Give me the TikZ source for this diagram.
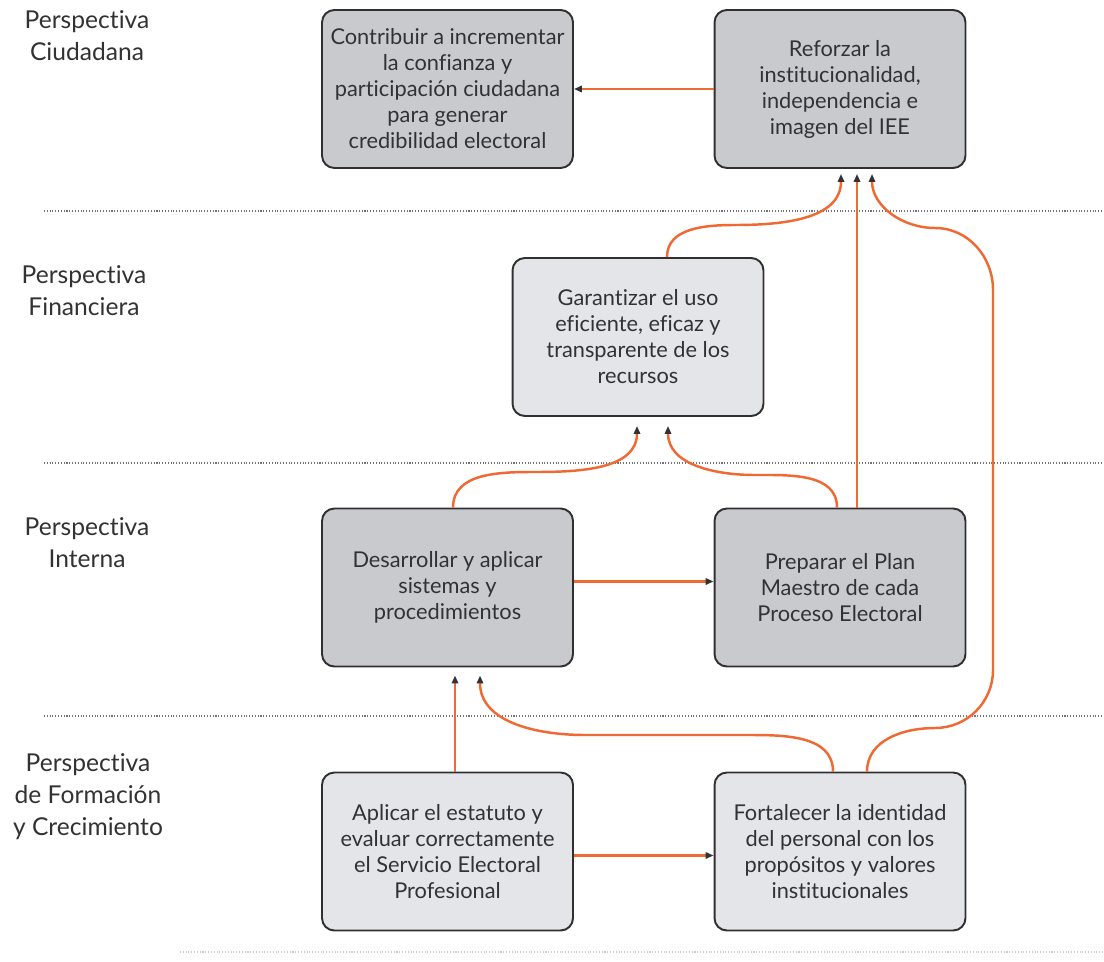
\documentclass[tikz,border=0pt]{standalone}
\usepackage{fontspec}
\setmainfont{Lato}[Ligatures=NoCommon]
\usetikzlibrary{arrows.meta,calc}
\definecolor{orng}{RGB}{240,104,50}
\definecolor{darkbox}{RGB}{200,202,206}
\definecolor{lightbox}{RGB}{227,229,233}
\definecolor{txt}{RGB}{50,50,52}
\tikzset{
  box/.style={draw=txt!95!black, line width=1.1pt, rounded corners=7pt,
    minimum width=5.02cm, minimum height=3.16cm, align=center,
    text=txt, font=\fontsize{12.4}{14.8}\selectfont, inner sep=2pt},
  darkb/.style={box, fill=darkbox},
  lightb/.style={box, fill=lightbox},
  persp/.style={align=center, text=txt, font=\fontsize{14}{18.2}\selectfont},
  sep/.style={draw=black!55, line width=0.6pt, densely dotted},
  arr/.style={draw=orng, line width=1.4pt,
    -{Triangle[length=4.5pt,width=3.6pt,color=black!80]}},
}
\begin{document}
\begin{tikzpicture}[x=0.02cm,y=-0.02cm]
\useasboundingbox (0,0) rectangle (1104,962);
% separators
\coordinate (s1a) at (44,211); \coordinate (s1b) at (1104,211);
\coordinate (s2a) at (44,463); \coordinate (s2b) at (1104,463);
\coordinate (s3a) at (44,716); \coordinate (s3b) at (1104,716);
\coordinate (s4a) at (180,952); \coordinate (s4b) at (1104,952);
\draw[sep] (s1a) -- (s1b);
\draw[sep] (s2a) -- (s2b);
\draw[sep] (s3a) -- (s3b);
\draw[sep, draw=black!20] (s4a) -- (s4b);
% perspective labels
\node[persp] (p1) at (87,36) {Perspectiva\\Ciudadana};
\node[persp] (p2) at (84,291) {Perspectiva\\Financiera};
\node[persp] (p3) at (87,543) {Perspectiva\\Interna};
\node[persp] (p4) at (88,797) {Perspectiva\\de Formación\\y Crecimiento};
% boxes
\node[darkb] (A) at (447.5,89) {Contribuir a incrementar\\la confianza y\\participación ciudadana\\para generar\\credibilidad electoral};
\node[darkb] (B) at (840,89) {Reforzar la\\institucionalidad,\\independencia e\\imagen del IEE};
\node[lightb] (C) at (638,337) {Garantizar el uso\\eficiente, eficaz y\\transparente de los\\recursos};
\node[darkb] (D) at (447.5,587.5) {Desarrollar y aplicar\\sistemas y\\procedimientos};
\node[darkb] (E) at (840,587.5) {Preparar el Plan\\Maestro de cada\\Proceso Electoral};
\node[lightb] (F) at (447.5,851.5) {Aplicar el estatuto y\\evaluar correctamente\\el Servicio Electoral\\Profesional};
\node[lightb] (G) at (840,851.5) {Fortalecer la identidad\\del personal con los\\propósitos y valores\\institucionales};
% connectors
\draw[arr] (B.west) -- (A.east);
% C -> B
\draw[arr] ($(C.north)+(29,0)$) to[out=90,in=180] (735,225) to[out=0,in=-90] ($(B.south)+(1,5)$);
% E -> B
\draw[arr] ($(E.north)+(17,0)$) -- ($(B.south)+(17,5)$);
% G -> B
\draw[arr] ($(G.north)+(27,0)$) to[out=90,in=180] (935,728) to[out=0,in=-90] (993,670) -- (993,290) to[out=90,in=0] (935,228) to[out=180,in=-90] ($(B.south)+(32,5)$);
% D -> C
\draw[arr] ($(D.north)+(5.5,0)$) to[out=90,in=180] (535,472) to[out=0,in=-90] ($(C.south)+(-1,9)$);
% E -> C
\draw[arr] ($(E.north)+(-3,0)$) to[out=90,in=0] (755,475) to[out=180,in=-90] ($(C.south)+(30,9)$);
% D -> E
\draw[arr] ($(D.east)+(0,-6)$) -- ($(E.west)+(0,-6)$);
% F -> G
\draw[arr] ($(F.east)+(0,4)$) -- ($(G.west)+(0,4)$);
% F -> D
\draw[arr] ($(F.north)+(7.5,0)$) -- ($(D.south)+(7.5,8)$);
% G -> D
\draw[arr] ($(G.north)+(-7,0)$) to[out=90,in=0] (745,735) -- (585,735) to[out=180,in=-90] ($(D.south)+(32.5,8)$);
\end{tikzpicture}
\end{document}
